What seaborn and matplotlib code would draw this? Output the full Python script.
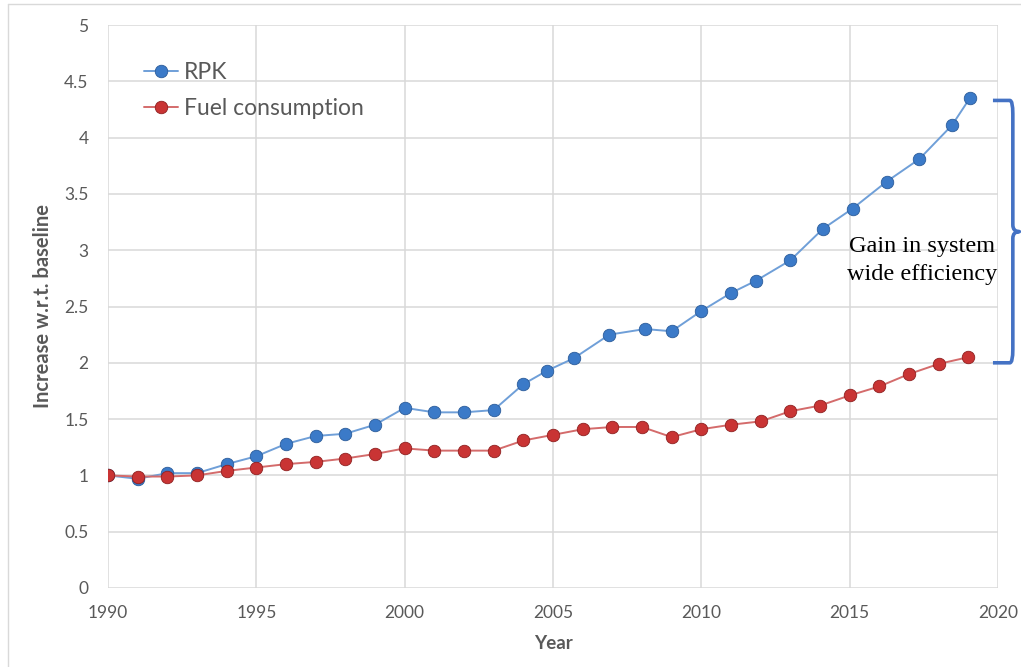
import numpy as np
import pandas as pd
import matplotlib
matplotlib.use("Agg")
import matplotlib.pyplot as plt
from matplotlib.path import Path
from matplotlib.patches import PathPatch
from matplotlib.ticker import FuncFormatter
import seaborn as sns

#   data
rpk_years = [1990, 1991, 1992, 1993, 1994, 1995, 1996, 1997, 1998, 1999,
             2000, 2001, 2002, 2003, 2004, 2004.8, 2005.7, 2006.9, 2008.1, 2009.0,
             2010.0, 2011.0, 2011.85, 2013.0, 2014.1, 2015.1, 2016.25, 2017.35, 2018.45, 2019.05]
rpk_values = [1.00, 0.97, 1.02, 1.02, 1.10, 1.17, 1.28, 1.35, 1.37, 1.45,
              1.60, 1.56, 1.56, 1.58, 1.81, 1.93, 2.04, 2.25, 2.30, 2.28,
              2.46, 2.62, 2.73, 2.91, 3.19, 3.37, 3.61, 3.81, 4.11, 4.35]

fuel_years = list(range(1990, 2020))
fuel_values = [1.00, 0.99, 0.99, 1.00, 1.04, 1.07, 1.10, 1.12, 1.15, 1.19,
               1.24, 1.22, 1.22, 1.22, 1.31, 1.36, 1.41, 1.43, 1.43, 1.34,
               1.41, 1.45, 1.48, 1.57, 1.62, 1.71, 1.79, 1.90, 1.99, 2.05]

series_names = ["RPK", "Fuel consumption"]
x_ticks = [1990, 1995, 2000, 2005, 2010, 2015, 2020]
y_ticks = [0, 0.5, 1, 1.5, 2, 2.5, 3, 3.5, 4, 4.5, 5]
annotation = "Gain in system\nwide efficiency"

#   styling
sns.set_style("white")
plt.rcParams['font.family'] = ['Lato', 'DejaVu Sans']

grey_text = "#595959"
grid_col = "#d9d9d9"
blue_line, blue_face, blue_edge = "#6f9fd8", "#3b7ac8", "#2b5c9a"
red_line, red_face, red_edge = "#d46b6b", "#c93434", "#8f2020"
brace_col = "#4472c4"

fig = plt.figure(figsize=(10.21, 6.67), dpi=100)
ax = fig.add_axes([108 / 1021, 79 / 667, 890 / 1021, 563 / 667])

rpk_df = pd.DataFrame({"Year": rpk_years, "Value": rpk_values})
fuel_df = pd.DataFrame({"Year": fuel_years, "Value": fuel_values})

sns.lineplot(data=rpk_df, x="Year", y="Value", ax=ax, color=blue_line, lw=1.4,
             marker="o", markersize=9, markerfacecolor=blue_face,
             markeredgecolor=blue_edge, markeredgewidth=0.6, label=series_names[0],
             zorder=3)
sns.lineplot(data=fuel_df, x="Year", y="Value", ax=ax, color=red_line, lw=1.4,
             marker="o", markersize=9, markerfacecolor=red_face,
             markeredgecolor=red_edge, markeredgewidth=0.6, label=series_names[1],
             zorder=4)

ax.set_xlim(1990, 2020)
ax.set_ylim(0, 5)
ax.set_xticks(x_ticks)
ax.set_yticks(y_ticks)
ax.yaxis.set_major_formatter(FuncFormatter(lambda v, p: f"{v:g}"))
ax.grid(True, color=grid_col, lw=1.1)
ax.set_axisbelow(True)
for s in ax.spines.values():
    s.set_visible(False)
ax.tick_params(axis="both", length=0, labelsize=12.5, labelcolor=grey_text)
ax.tick_params(axis="x", pad=12)
ax.tick_params(axis="y", pad=14)

ax.set_xlabel("Year", fontsize=13.5, fontweight="bold", color=grey_text, labelpad=10)
ax.set_ylabel("Increase w.r.t. baseline", fontsize=14.5, fontweight="bold",
              color=grey_text, labelpad=8)

leg = ax.legend(loc="upper left", bbox_to_anchor=(0.03, 0.95), frameon=False,
                fontsize=16.5, handlelength=1.5, handletextpad=0.25, labelspacing=0.65,
                borderaxespad=0)
for t in leg.get_texts():
    t.set_color(grey_text)

#   curly brace between the two end points
top, bot = rpk_values[-1] - 0.02, 2.0
mid = (top + bot) / 2
x0, x1, x2 = 2019.83, 2020.5, 2020.72
r = 0.12
verts = [(x0, top), (x1 - 0.1, top), (x1, top), (x1, top - r),
         (x1, mid + 0.06), (x1, mid), (x2, mid), (x1, mid), (x1, mid - 0.06),
         (x1, bot + r), (x1, bot), (x1 - 0.1, bot), (x0, bot)]
codes = [Path.MOVETO, Path.LINETO, Path.CURVE3, Path.CURVE3,
         Path.LINETO, Path.CURVE3, Path.CURVE3, Path.CURVE3, Path.CURVE3,
         Path.LINETO, Path.CURVE3, Path.CURVE3, Path.LINETO]
brace = PathPatch(Path(verts, codes), fill=False, edgecolor=brace_col, lw=2.6,
                  clip_on=False, capstyle="butt", joinstyle="round")
ax.add_patch(brace)

ax.text(2017.45, 2.91, annotation, ha="center", va="center", fontsize=17.5,
        family=["Liberation Serif", "DejaVu Serif"], color="black", linespacing=1.45,
        zorder=5)

#   outer frame of the original picture
fig.add_artist(plt.Line2D([8 / 1021, 8 / 1021], [0, 1 - 4 / 667], color=grid_col, lw=1))
fig.add_artist(plt.Line2D([8 / 1021, 1], [1 - 4 / 667, 1 - 4 / 667], color=grid_col, lw=1))

fig.savefig("out.png", dpi=100)
